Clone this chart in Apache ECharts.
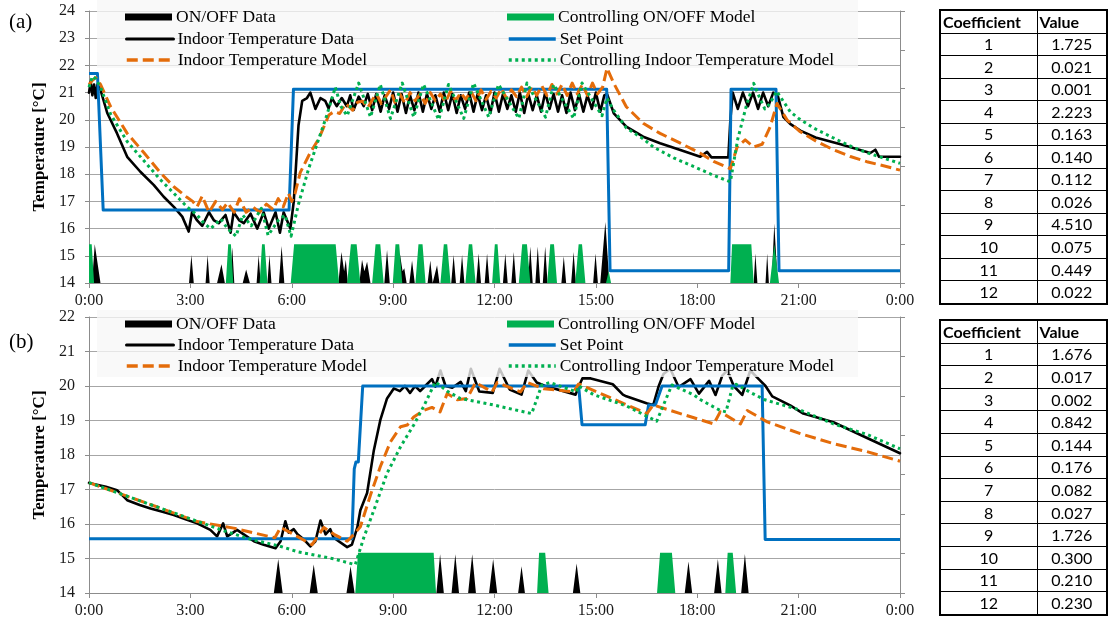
<!DOCTYPE html>
<html>
<head>
<meta charset="utf-8">
<script src="https://cdn.jsdelivr.net/npm/echarts@6/dist/echarts.min.js"></script>
<style>
  html, body { margin:0; padding:0; background:#fff; }
  #wrap { position:relative; width:1108px; height:627px; }
  #chart { position:absolute; left:0; top:0; width:1108px; height:627px; }
  table.coef { position:absolute; border-collapse:collapse; border:2px solid #000;
    font-family:Lato, "Liberation Sans", sans-serif; font-size:16px; color:#000; table-layout:fixed; }
  table.coef td { border:1px solid #000; padding:0; text-align:center; line-height:18px; }
  table.coef tr.h td { font-weight:bold; text-align:left; padding-left:2px; }
</style>
</head>
<body>
<div id="wrap">
  <div id="chart"></div>
</div>
<script>
// ---------------- DATA ----------------
const timeTicks = [0, 3, 6, 9, 12, 15, 18, 21, 24];

// Panel (a)
const setPointA = [[0,21.7],[0.25,21.7],[0.42,16.68],[5.92,16.68],[6.05,21.12],[15.32,21.12],[15.42,14.45],[18.93,14.45],[19.0,21.12],[20.33,21.12],[20.42,14.45],[24,14.45]];
const indoorDataA = [[0,21.0],[0.05,21.4],[0.1,20.9],[0.15,21.3],[0.2,20.8],[0.25,21.3],[0.34,21.1],[0.54,20.25],[0.83,19.5],[1.13,18.64],[1.52,18.09],[1.92,17.6],[2.21,17.17],[2.51,16.8],[2.76,16.44],[2.95,15.89],[3.05,16.6],[3.2,16.3],[3.35,16.1],[3.55,16.6],[3.7,16.3],[3.84,16.2],[4.04,16.5],[4.19,15.85],[4.28,16.6],[4.45,16.3],[4.58,16.2],[4.78,16.55],[4.98,16.0],[5.17,16.6],[5.32,16.0],[5.52,16.6],[5.65,15.85],[5.76,16.6],[5.96,16.0],[6.06,17.0],[6.2,19.8],[6.31,20.7],[6.45,20.8],[6.55,21.0],[6.7,20.4],[6.85,20.8],[6.99,20.7],[7.09,20.42],[7.19,20.8],[7.33,20.5],[7.48,20.8],[7.63,20.5],[7.73,20.9],[7.83,20.36],[7.98,20.85],[8.13,20.5],[8.25,20.95],[8.38,20.35],[8.5,20.95],[8.63,20.3],[8.75,20.9],[8.88,20.4],[9.0,21.0],[9.13,20.3],[9.25,20.95],[9.38,20.25],[9.5,20.9],[9.63,20.35],[9.75,21.0],[9.88,20.3],[10.0,20.95],[10.13,20.4],[10.25,20.9],[10.38,20.3],[10.5,21.0],[10.63,20.35],[10.75,20.95],[10.88,20.25],[11.0,20.9],[11.13,20.4],[11.25,21.0],[11.38,20.3],[11.5,20.95],[11.63,20.35],[11.75,20.9],[11.88,20.25],[12.0,21.0],[12.13,20.3],[12.25,20.95],[12.38,20.4],[12.5,20.9],[12.63,20.3],[12.75,21.0],[12.88,20.25],[13.0,20.95],[13.13,20.35],[13.25,20.9],[13.38,20.3],[13.5,21.0],[13.63,20.4],[13.75,20.95],[13.88,20.3],[14.0,20.9],[14.13,20.25],[14.25,21.0],[14.38,20.35],[14.5,20.95],[14.63,20.3],[14.75,20.9],[14.88,20.4],[15.0,21.0],[15.13,20.3],[15.25,20.9],[15.33,20.95],[15.4,20.7],[15.53,20.24],[15.9,19.75],[16.4,19.38],[16.9,19.14],[17.5,18.89],[18.09,18.64],[18.29,18.82],[18.42,18.62],[18.92,18.62],[18.98,20.0],[19.05,21.0],[19.2,20.4],[19.35,21.0],[19.5,20.5],[19.65,21.0],[19.8,20.4],[19.95,21.0],[20.1,20.5],[20.25,21.0],[20.38,20.9],[20.55,20.1],[20.75,19.85],[21.05,19.6],[21.5,19.35],[22.24,19.1],[23.12,18.78],[23.27,18.9],[23.38,18.64],[24,18.64]];
const indoorModelA = [[0,21.3],[0.1,21.45],[0.2,21.55],[0.34,21.3],[0.64,20.48],[1.13,19.5],[1.62,18.8],[2.11,18.06],[2.51,17.54],[2.9,17.15],[3.07,17.0],[3.2,16.8],[3.35,17.2],[3.55,16.6],[3.75,17.0],[3.95,16.7],[4.1,16.95],[4.3,16.6],[4.45,17.1],[4.65,16.6],[4.85,16.8],[5.05,16.6],[5.25,16.9],[5.45,16.7],[5.6,17.1],[5.75,16.8],[5.9,17.3],[6.0,17.0],[6.1,17.3],[6.25,18.06],[6.55,18.8],[6.8,19.3],[7.1,20.18],[7.25,20.3],[7.42,20.23],[7.6,20.6],[7.8,20.35],[7.95,20.65],[8.1,20.68],[8.25,20.45],[8.5,20.97],[8.65,20.6],[8.92,21.1],[9.05,20.65],[9.2,20.95],[9.35,20.6],[9.5,21.0],[9.65,20.7],[9.8,20.95],[9.95,20.6],[10.1,21.0],[10.25,20.7],[10.4,20.95],[10.55,20.65],[10.7,21.05],[10.85,20.7],[11.0,21.0],[11.15,20.75],[11.3,21.05],[11.45,20.7],[11.6,21.1],[11.75,20.75],[11.9,21.05],[12.05,20.8],[12.2,21.15],[12.35,20.8],[12.5,21.1],[12.65,20.85],[12.8,21.2],[12.95,20.85],[13.1,21.2],[13.25,20.9],[13.4,21.25],[13.55,20.9],[13.7,21.3],[13.85,20.95],[14.0,21.3],[14.15,20.9],[14.3,21.35],[14.45,20.95],[14.6,21.3],[14.75,20.9],[14.9,21.35],[15.05,20.95],[15.2,21.2],[15.33,21.9],[15.53,21.34],[15.9,20.48],[16.4,19.87],[16.9,19.5],[17.5,19.14],[18.09,18.77],[18.5,18.46],[18.98,18.2],[19.18,19.0],[19.42,19.26],[19.67,19.0],[19.92,19.1],[20.16,19.75],[20.36,20.6],[20.66,19.99],[21.05,19.56],[21.54,19.2],[22.03,18.9],[22.53,18.65],[23.02,18.46],[23.51,18.31],[24,18.15]];
const ctrlModelA = [[0,21.2],[0.1,21.6],[0.2,21.5],[0.34,21.2],[0.64,20.2],[1.13,19.2],[1.62,18.5],[2.11,17.8],[2.51,17.3],[2.9,16.8],[3.2,16.5],[3.4,16.2],[3.6,16.0],[3.9,16.35],[4.1,16.0],[4.35,15.72],[4.55,16.5],[4.8,16.1],[5.1,16.75],[5.3,15.75],[5.6,16.3],[5.8,16.5],[5.98,15.72],[6.2,16.9],[6.5,18.2],[6.8,19.3],[7.02,20.1],[7.29,21.2],[7.45,20.5],[7.64,20.15],[7.98,21.35],[8.33,20.1],[8.62,21.3],[8.92,20.05],[9.27,21.35],[9.61,20.1],[9.9,21.3],[10.35,20.0],[10.64,21.3],[11.09,20.05],[11.38,21.35],[11.83,20.1],[12.12,21.3],[12.72,20.05],[12.96,21.35],[13.51,20.1],[13.75,21.3],[14.34,20.05],[14.59,21.35],[15.18,20.15],[15.33,20.8],[15.5,20.4],[15.9,19.7],[16.4,19.3],[16.7,19.0],[17.3,18.6],[17.9,18.28],[18.5,17.95],[18.98,17.72],[19.2,19.3],[19.45,20.5],[19.67,21.34],[19.85,20.8],[20.0,20.4],[20.15,20.6],[20.35,21.05],[20.75,20.3],[21.0,20.05],[21.44,19.7],[22.0,19.35],[22.5,19.05],[23.0,18.8],[23.5,18.6],[24,18.4]];
const onoffDataA = [[0,0],[0.09,0],[0.17,1.0],[0.34,0],[2.96,0],[3.03,0.72],[3.1,0],[3.45,0],[3.51,0.72],[3.57,0],[3.79,0],[3.92,0.48],[4.02,0],[4.17,0],[4.24,0.92],[4.3,0],[4.55,0],[4.65,0.35],[4.76,0],[4.96,0],[5.02,0.72],[5.08,0],[5.28,0],[5.34,0.72],[5.4,0],[5.62,0],[5.7,0.95],[5.78,0],[7.38,0],[7.47,0.8],[7.55,0.3],[7.6,0.6],[7.66,0],[8.0,0],[8.08,0.6],[8.15,0.3],[8.23,0.55],[8.33,0],[8.74,0],[8.82,0.85],[8.9,0],[9.1,0],[9.2,0.75],[9.28,0.3],[9.33,0.38],[9.4,0],[9.48,0],[9.56,0.58],[9.64,0],[10.02,0],[10.1,0.58],[10.17,0],[10.22,0],[10.3,0.46],[10.37,0],[10.72,0],[10.79,0.72],[10.86,0],[10.97,0],[11.04,0.72],[11.11,0],[11.46,0],[11.53,0.76],[11.6,0],[11.71,0],[11.78,0.76],[11.85,0],[12.25,0],[12.32,0.76],[12.39,0],[12.5,0],[12.57,0.8],[12.64,0],[12.99,0],[13.06,0.94],[13.13,0],[13.21,0],[13.28,0.94],[13.35,0],[13.43,0],[13.5,0.94],[13.57,0],[13.98,0],[14.05,0.69],[14.12,0],[14.27,0],[14.34,0.8],[14.41,0],[14.92,0],[14.99,0.76],[15.06,0],[15.13,0],[15.28,1.57],[15.4,0],[19.67,0],[19.72,0.76],[19.78,0],[20.02,0],[20.07,0.76],[20.12,0],[20.2,0],[20.28,1.53],[20.38,0],[24,0]];
const ctrlOnoffA = [[0,1],[0.08,1],[0.15,0],[4.05,0],[4.12,1],[4.2,1],[4.27,0],[5.05,0],[5.12,1],[5.2,1],[5.28,0],[5.97,0],[6.07,1],[7.3,1],[7.4,0],[7.64,0],[7.75,1],[7.92,1],[8.03,0],[8.38,0],[8.48,1],[8.62,1],[8.72,0],[8.99,0],[9.07,1],[9.18,1],[9.27,0],[9.66,0],[9.75,1],[9.87,1],[9.96,0],[10.4,0],[10.5,1],[10.6,1],[10.7,0],[11.14,0],[11.24,1],[11.34,1],[11.44,0],[11.93,0],[12.01,1],[12.09,1],[12.17,0],[12.72,0],[12.82,1],[12.96,1],[13.06,0],[13.56,0],[13.65,1],[13.76,1],[13.85,0],[14.39,0],[14.49,1],[14.59,1],[14.69,0],[15.3,0],[15.38,0.3],[15.45,0],[18.98,0],[19.03,1],[19.6,1],[19.67,0],[20.15,0],[20.28,1],[20.33,1],[20.42,0],[24,0]];

// Panel (b)
const setPointB = [[0,15.57],[7.78,15.57],[7.85,17.6],[7.9,17.8],[7.97,17.8],[8.1,20.0],[14.49,20.0],[14.59,18.88],[16.46,18.88],[16.56,19.45],[16.76,19.45],[16.96,20.0],[19.92,20.0],[20.01,15.55],[24,15.55]];
const indoorDataB = [[0,17.19],[0.5,17.08],[0.83,16.98],[1.13,16.69],[1.5,16.55],[1.82,16.45],[2.2,16.35],[2.51,16.26],[2.9,16.12],[3.2,16.02],[3.59,15.83],[3.79,15.64],[3.97,16.02],[4.09,15.64],[4.22,15.72],[4.38,15.83],[4.58,15.7],[4.88,15.5],[5.17,15.4],[5.52,15.3],[5.67,15.5],[5.81,16.08],[5.91,15.75],[6.06,15.85],[6.17,15.7],[6.36,15.55],[6.55,15.35],[6.7,15.5],[6.85,16.1],[7.0,15.7],[7.14,15.85],[7.24,15.6],[7.64,15.33],[7.78,15.4],[7.94,15.9],[8.03,16.4],[8.23,16.9],[8.43,18.14],[8.62,19.01],[8.82,19.64],[9.02,19.93],[9.2,19.85],[9.35,20.0],[9.5,19.8],[9.65,20.0],[9.8,19.85],[9.95,20.0],[10.15,20.2],[10.25,19.98],[10.4,20.45],[10.55,20.0],[10.75,19.95],[11.0,20.12],[11.15,19.85],[11.3,20.5],[11.55,19.84],[11.95,19.8],[12.15,20.5],[12.45,19.9],[12.8,19.75],[13.0,20.45],[13.25,20.1],[13.5,20.0],[14.4,19.75],[14.5,20.0],[14.6,20.22],[14.85,20.22],[15.5,20.05],[15.8,19.75],[15.9,19.7],[16.5,19.5],[16.7,19.45],[16.85,19.97],[17.0,20.35],[17.2,20.5],[17.45,19.97],[17.8,20.2],[18.05,19.78],[18.35,20.15],[18.54,19.74],[18.74,20.3],[18.89,20.45],[19.08,20.0],[19.33,19.74],[19.57,20.45],[19.82,20.2],[20.02,20.0],[20.22,19.7],[20.75,19.44],[21.14,19.2],[22.03,18.95],[23.01,18.5],[24,18.05]];
const indoorModelB = [[0,17.2],[1,16.85],[2,16.5],[3.2,16.07],[4.28,15.88],[5.5,15.6],[5.67,15.9],[5.96,15.75],[6.6,15.4],[6.95,15.9],[7.25,15.7],[7.64,15.5],[7.84,15.7],[8.03,15.92],[8.33,16.84],[8.62,17.66],[8.92,18.38],[9.22,18.82],[9.42,18.87],[9.61,19.1],[9.9,19.29],[10.15,19.38],[10.39,19.25],[10.6,19.78],[10.9,19.6],[11.19,19.64],[11.44,20.1],[11.93,19.83],[12.08,20.1],[12.77,19.83],[12.97,20.1],[13.46,19.92],[14.34,19.83],[14.49,20.06],[16.51,19.2],[16.7,19.45],[17.5,19.2],[18.49,18.9],[18.68,19.25],[19.28,18.9],[19.48,19.29],[20.07,18.96],[21.05,18.62],[22.03,18.33],[23.01,18.1],[24,17.82]];
const ctrlModelB = [[0,17.2],[1,16.85],[2,16.5],[3,16.15],[4,15.8],[4.8,15.55],[5.6,15.37],[6.2,15.19],[7.24,14.99],[7.88,14.82],[8.13,15.6],[8.43,16.4],[8.82,17.47],[9.22,18.24],[9.61,18.87],[9.9,19.4],[10.25,20.12],[10.6,19.85],[10.98,19.64],[11.97,19.45],[13.1,19.2],[13.4,20.03],[13.64,20.1],[14.43,19.83],[14.49,20.0],[14.93,19.75],[15.91,19.42],[16.8,18.98],[17.25,20.03],[17.9,19.74],[18.1,19.6],[18.68,19.29],[18.85,19.25],[19.05,20.0],[19.15,20.05],[19.6,19.8],[20.0,19.6],[21.05,19.3],[22.03,18.9],[23.01,18.6],[24,18.18]];
const onoffDataB = [[0,0],[5.47,0],[5.6,0.86],[5.73,0],[6.53,0],[6.65,0.72],[6.77,0],[7.62,0],[7.74,0.68],[7.86,0],[10.28,0],[10.39,0.98],[10.5,0],[10.73,0],[10.84,0.98],[10.95,0],[11.22,0],[11.34,0.98],[11.45,0],[11.84,0],[11.96,0.86],[12.08,0],[12.7,0],[12.8,0.68],[12.9,0],[14.32,0],[14.43,0.75],[14.54,0],[17.63,0],[17.74,0.8],[17.85,0],[18.5,0],[18.61,0.86],[18.72,0],[19.3,0],[19.41,0.99],[19.52,0],[24,0]];
const ctrlOnoffB = [[0,0],[7.88,0],[7.96,1.02],[10.2,1.02],[10.27,0],[13.26,0],[13.32,1.02],[13.5,1.02],[13.6,0],[16.81,0],[16.9,1.02],[17.25,1.02],[17.35,0],[18.83,0],[18.9,1.02],[19.05,1.02],[19.15,0],[24,0]];

// Tables
const coefIndex = [1,2,3,4,5,6,7,8,9,10,11,12];
const coefValuesA = ['1.725','0.021','0.001','2.223','0.163','0.140','0.112','0.026','4.510','0.075','0.449','0.022'];
const coefValuesB = ['1.676','0.017','0.002','0.842','0.144','0.176','0.082','0.027','1.726','0.300','0.210','0.230'];

// ---------------- TABLES ----------------
function makeTable(vals, left, top, height) {
  const t = document.createElement('table');
  t.className = 'coef';
  t.style.left = left + 'px'; t.style.top = top + 'px';
  t.style.width = '167px'; t.style.height = height + 'px';
  let html = '<colgroup><col style="width:97px"><col style="width:70px"></colgroup>';
  html += '<tr class="h"><td>Coefficient</td><td>Value</td></tr>';
  coefIndex.forEach((c, i) => { html += '<tr><td>' + c + '</td><td>' + vals[i] + '</td></tr>'; });
  t.innerHTML = html;
  document.getElementById('wrap').appendChild(t);
}
makeTable(coefValuesA, 939, 9, 296);
makeTable(coefValuesB, 939, 319, 297);

// ---------------- CHART ----------------
const SERIF = '"Liberation Serif", "Times New Roman", serif';
const GRID_COLOR = '#a6a6a6';
const AXIS_COLOR = '#8c8c8c';
const C = { black:'#000000', blue:'#0070C0', orange:'#E46C0A', green:'#00B050' };
const hourFmt = v => (v % 24) + ':00';

const grids = [
  { left: 89, top: 11, width: 811, height: 272 },
  { left: 89, top: 317, width: 811, height: 276 }
];
const xAxes = [0, 1].map(g => ({
  gridIndex: g, type: 'value', min: 0, max: 24, interval: 3,
  axisLine: { show: true, onZero: false, lineStyle: { color: AXIS_COLOR, width: 1 } },
  axisTick: { show: true, length: 5, lineStyle: { color: AXIS_COLOR } },
  axisLabel: { formatter: hourFmt, fontFamily: SERIF, fontSize: 16, color: '#1a1a1a', margin: 10 },
  splitLine: { show: false }
}));
function primaryY(g, max) {
  return {
    gridIndex: g, type: 'value', min: 14, max: max, interval: 1,
    name: 'Temperature [°C]', nameLocation: 'middle', nameGap: 40,
    nameTextStyle: { fontFamily: SERIF, fontSize: 17, fontWeight: 'bold', color: '#000' },
    axisLine: { show: true, lineStyle: { color: AXIS_COLOR } },
    axisTick: { show: true, length: 4, lineStyle: { color: AXIS_COLOR } },
    axisLabel: { fontFamily: SERIF, fontSize: 16, color: '#1a1a1a', margin: 14 },
    splitLine: { show: true, lineStyle: { color: GRID_COLOR, width: 1 } }
  };
}
function secondaryY(g) {
  return {
    gridIndex: g, type: 'value', position: 'right', min: 0, max: 7, interval: 1,
    axisLine: { show: true, lineStyle: { color: AXIS_COLOR } },
    axisTick: { show: true, length: 5, lineStyle: { color: AXIS_COLOR } },
    axisLabel: { show: false }, splitLine: { show: false }
  };
}
const yAxes = [primaryY(0, 24), secondaryY(0), primaryY(1, 22), secondaryY(1)];

function panelSeries(xi, yp, ys, d) {
  const base = { type: 'line', xAxisIndex: xi, showSymbol: false, symbol: 'none', animation: false, silent: true };
  return [
    Object.assign({}, base, { name: 'ON/OFF Data', yAxisIndex: ys, data: d.onoff, z: 2,
      itemStyle: { color: C.black }, lineStyle: { width: 0, color: C.black }, areaStyle: { color: C.black, opacity: 1 } }),
    Object.assign({}, base, { name: 'Controlling ON/OFF Model', yAxisIndex: ys, data: d.ctrlOnoff, z: 2,
      itemStyle: { color: C.green }, lineStyle: { width: 0, color: C.green }, areaStyle: { color: C.green, opacity: 1 } }),
    Object.assign({}, base, { name: 'Indoor Temperature Data', yAxisIndex: yp, data: d.data, z: 3,
      itemStyle: { color: C.black }, lineStyle: { width: 2.6, color: C.black, join: 'round', cap: 'round' } }),
    Object.assign({}, base, { name: 'Set Point', yAxisIndex: yp, data: d.set, z: 3,
      itemStyle: { color: C.blue }, lineStyle: { width: 3, color: C.blue, join: 'round' } }),
    Object.assign({}, base, { name: 'Indoor Temperature Model', yAxisIndex: yp, data: d.model, z: 3,
      itemStyle: { color: C.orange }, lineStyle: { width: 3, color: C.orange, type: [11, 5], join: 'round' } }),
    Object.assign({}, base, { name: 'Controlling Indoor Temperature Model', yAxisIndex: yp, data: d.ctrlModel, z: 3,
      itemStyle: { color: C.green }, lineStyle: { width: 3, color: C.green, type: [3, 3.5], join: 'round' } })
  ];
}
const series = [].concat(
  panelSeries(0, 0, 1, { onoff: onoffDataA, ctrlOnoff: ctrlOnoffA, data: indoorDataA, set: setPointA, model: indoorModelA, ctrlModel: ctrlModelA }),
  panelSeries(1, 2, 3, { onoff: onoffDataB, ctrlOnoff: ctrlOnoffB, data: indoorDataB, set: setPointB, model: indoorModelB, ctrlModel: ctrlModelB })
);

// legends: two columns, three rows per panel
const legendCols = [
  ['ON/OFF Data', 'Indoor Temperature Data', 'Indoor Temperature Model'],
  ['Controlling ON/OFF Model', 'Set Point', 'Controlling Indoor Temperature Model']
];
const legendLine = {
  'Indoor Temperature Data': { width: 3, color: C.black, type: 'solid' },
  'Indoor Temperature Model': { width: 3.5, color: C.orange, type: [11, 5] },
  'Set Point': { width: 3.5, color: C.blue, type: 'solid' },
  'Controlling Indoor Temperature Model': { width: 3.5, color: C.green, type: [3, 3.5] }
};
const legendFill = { 'ON/OFF Data': C.black, 'Controlling ON/OFF Model': C.green };
const legendLeft = [125, 507];
const legendRowCenters = [[17, 39, 60], [324, 345, 366]];
const HIDDEN = 'rgba(0,0,0,0)';
const legends = [];
legendRowCenters.forEach(rows => {
  legendCols.forEach((col, ci) => {
    col.forEach((name, ri) => {
      const isArea = name.indexOf('ON/OFF') >= 0;
      const item = isArea
        ? { name: name, icon: 'rect', itemStyle: { color: legendFill[name], borderWidth: 0, borderColor: HIDDEN } }
        : { name: name, itemStyle: { color: HIDDEN, borderColor: HIDDEN, borderWidth: 0, opacity: 0 } };
      const lg = {
        data: [item],
        left: legendLeft[ci], top: rows[ri] - 9, padding: 0, z: 5,
        itemWidth: 47, itemHeight: isArea ? 7 : 14, selectedMode: false,
        textStyle: { fontFamily: SERIF, fontSize: 17.5, color: '#000', lineHeight: 18, padding: [0, 0, 0, -1] }
      };
      lg.lineStyle = isArea ? { width: 0, color: HIDDEN } : legendLine[name];
      legends.push(lg);
    });
  });
});

const option = {
  backgroundColor: '#ffffff',
  animation: false,
  grid: grids, xAxis: xAxes, yAxis: yAxes, series: series, legend: legends,
  graphic: [
    { type: 'rect', z: 4, shape: { x: 97, y: 0, width: 761, height: 68 }, style: { fill: 'rgba(247,247,247,0.78)' } },
    { type: 'rect', z: 4, shape: { x: 97, y: 310, width: 761, height: 67 }, style: { fill: 'rgba(247,247,247,0.78)' } },
    { type: 'text', z: 6, left: 9, top: 12, style: { text: '(a)', font: '21px ' + SERIF, fill: '#000' } },
    { type: 'text', z: 6, left: 9, top: 332, style: { text: '(b)', font: '21px ' + SERIF, fill: '#000' } }
  ]
};
const chart = echarts.init(document.getElementById('chart'), null, { renderer: 'canvas', width: 1108, height: 627 });
chart.setOption(option);
</script>
</body>
</html>
